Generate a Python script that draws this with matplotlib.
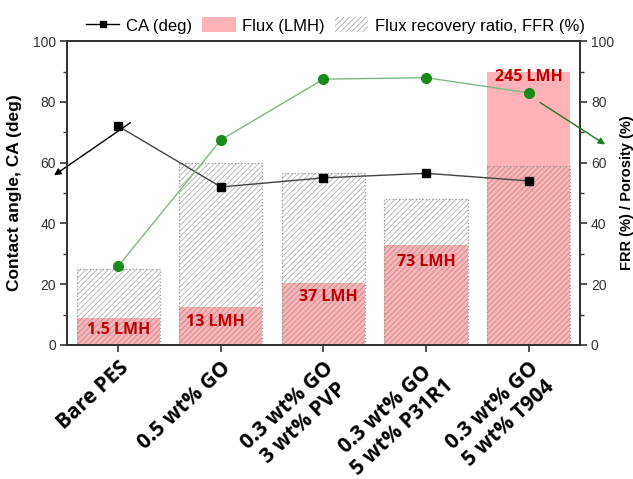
import numpy as np
import matplotlib.pyplot as plt
from matplotlib.patches import Patch
from matplotlib.lines import Line2D

# data

samples = ["Bare PES", "0.5 wt% GO", "0.3 wt% GO\n3 wt% PVP",
           "0.3 wt% GO\n5 wt% P31R1", "0.3 wt% GO\n5 wt% T904"]
ca_deg      = [72, 52, 55, 56.5, 54]          # left axis
flux_height = [9, 12.5, 20.5, 33, 90]          # pink bar height (left axis units)
flux_labels = ["1.5 LMH", "13 LMH", "37 LMH", "73 LMH", "245 LMH"]
ffr         = [25, 60, 56.5, 48, 59]           # hatched bars
porosity    = [26, 67.5, 87.5, 88, 83]         # right axis, green

# style

PINK      = "#ffb3b6"
RED_TEXT  = "#c00000"
HATCH_COL = (0.45, 0.45, 0.45, 0.55)
GREEN     = "#1a8a1a"
GREEN_LN  = "#7fb87f"
AXCOL     = "#333333"

plt.rcParams.update({
    "font.family": "Liberation Sans",
    "hatch.linewidth": 0.6,
    "axes.edgecolor": AXCOL,
    "axes.linewidth": 1.4,
    "xtick.color": AXCOL,
    "ytick.color": AXCOL,
})

fig = plt.figure(figsize=(6.33, 4.79), dpi=100)
ax = fig.add_axes([0.106, 0.280, 0.810, 0.634])
ax2 = ax.twinx()

x = np.arange(len(samples))
w = 0.81

# BARS
ax.bar(x, flux_height, width=w, color=PINK, linewidth=0, zorder=1)
ax.bar(x, ffr, width=w, facecolor="none", edgecolor=HATCH_COL,
       hatch="//////", linewidth=0, zorder=2)
ax.bar(x, ffr, width=w, facecolor="none", edgecolor="#999999",
       linestyle=":", linewidth=0.9, zorder=2)

# flux labels
label_y = [4.9, 7.6, 15.8, 27.3, 88.2]
label_dx = [0, -0.05, 0.05, 0, 0]
for i, txt in enumerate(flux_labels):
    ax.text(x[i] + label_dx[i], label_y[i], txt, color=RED_TEXT,
            fontsize=11.5, fontweight="bold", family="Open Sans",
            ha="center", va="center", zorder=5)

# CA LINE
ax.plot(x, ca_deg, color="#444444", linewidth=1.0, marker="s",
        markersize=6, markerfacecolor="black", markeredgecolor="black", zorder=4)

# POROSITY LINE (right axis)
ax2.plot(x, porosity, color=GREEN_LN, linewidth=1.0, zorder=3)
ax2.plot(x, porosity, linestyle="none", marker="o", markersize=7,
         color=GREEN, zorder=4)

# arrows
ax.annotate("", xy=(-0.65, 55.3), xytext=(0.14, 73.7),
            arrowprops=dict(arrowstyle="-|>", color="black", lw=1.0,
                            mutation_scale=10),
            annotation_clip=False)
ax2.annotate("", xy=(4.77, 65.5), xytext=(4.09, 80.3),
             arrowprops=dict(arrowstyle="-|>", color="#1f7a1f", lw=1.0,
                             mutation_scale=10),
             annotation_clip=False)

# AXES
ax.set_xlim(-0.5, 4.5)
ax.set_ylim(0, 100)
ax2.set_ylim(0, 100)

ax.set_yticks(np.arange(0, 101, 20))
ax.set_yticks(np.arange(10, 100, 20), minor=True)
ax2.set_yticks(np.arange(0, 101, 20))
ax2.set_yticks(np.arange(10, 100, 20), minor=True)
for a in (ax, ax2):
    a.tick_params(axis="y", which="major", length=5, width=1.2, labelsize=10,
                  labelcolor="#333333", pad=3)
    a.tick_params(axis="y", which="minor", length=3, width=1.0)

ax.set_xticks(x)
ax.set_xticklabels(samples, rotation=43, ha="right", va="top",
                   rotation_mode="anchor", multialignment="center",
                   fontsize=15, fontweight="bold", family="Open Sans",
                   color="black", linespacing=1.2)
ax.tick_params(axis="x", length=5, width=1.2, pad=4)

ax.set_ylabel("Contact angle, CA (deg)", fontsize=12.5, fontweight="bold",
              color="black", labelpad=8)
ax2.set_ylabel("FRR (%) / Porosity (%)", fontsize=10.5, fontweight="bold",
               color="black", labelpad=4)

# LEGEND
handles = [
    Line2D([0], [0], color="black", marker="s", markersize=5, linewidth=1.0),
    Patch(facecolor=PINK, edgecolor="none"),
    Patch(facecolor="white", edgecolor="#aaaaaa", hatch="//////", linewidth=0),
]
names = ["CA (deg)", "Flux (LMH)", "Flux recovery ratio, FFR (%)"]
fig.legend(handles, names, loc="upper center", bbox_to_anchor=(0.53, 0.995),
           ncol=3, frameon=False, fontsize=12, handlelength=2.0,
           handletextpad=0.4, columnspacing=0.6, handleheight=1.0)

fig.savefig("out.png", dpi=100)
